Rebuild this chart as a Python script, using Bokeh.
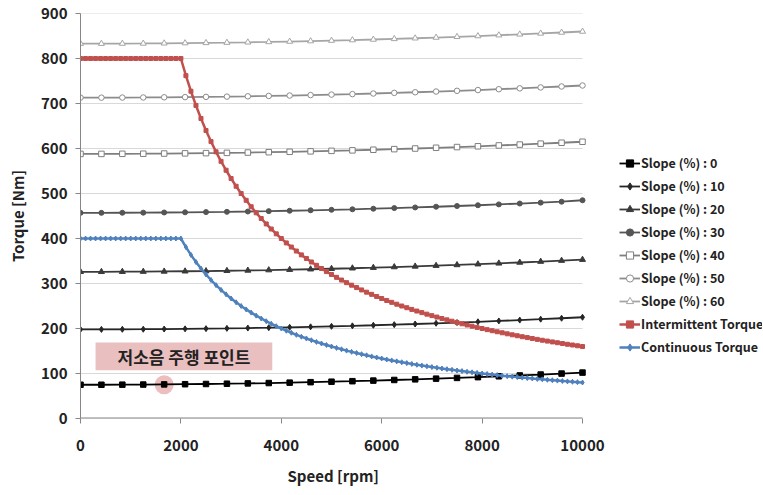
from bokeh.plotting import figure
from bokeh.models import Legend, LegendItem, Range1d, FixedTicker, Title
from bokeh.core.properties import value
from bokeh.embed import file_html
from bokeh.resources import INLINE

# ---------------- data ----------------
speed_slope = [0, 416.7, 833.3, 1250, 1666.7, 2083.3, 2500, 2916.7, 3333.3, 3750,
               4166.7, 4583.3, 5000, 5416.7, 5833.3, 6250, 6666.7, 7083.3, 7500,
               7916.7, 8333.3, 8750, 9166.7, 9583.3, 10000]
slope_0 = [75.0, 75.0, 75.2, 75.4, 75.8, 76.2, 76.7, 77.3, 78.0, 78.8, 79.7, 80.7, 81.8,
           82.9, 84.2, 85.6, 87.0, 88.6, 90.2, 91.9, 93.8, 95.7, 97.7, 99.8, 102.0]
slope_10 = [198.0, 198.0, 198.2, 198.4, 198.8, 199.2, 199.7, 200.3, 201.0, 201.8, 202.7, 203.7, 204.8,
            205.9, 207.2, 208.6, 210.0, 211.6, 213.2, 214.9, 216.8, 218.7, 220.7, 222.8, 225.0]
slope_20 = [326.0, 326.0, 326.2, 326.4, 326.8, 327.2, 327.7, 328.3, 329.0, 329.8, 330.7, 331.7, 332.8,
            333.9, 335.2, 336.6, 338.0, 339.6, 341.2, 342.9, 344.8, 346.7, 348.7, 350.8, 353.0]
slope_30 = [457.0, 457.0, 457.2, 457.4, 457.8, 458.2, 458.7, 459.3, 460.0, 460.8, 461.7, 462.7, 463.8,
            464.9, 466.2, 467.6, 469.0, 470.6, 472.2, 473.9, 475.8, 477.7, 479.7, 481.8, 485.0]
slope_40 = [588.0, 588.0, 588.2, 588.4, 588.8, 589.2, 589.7, 590.3, 591.0, 591.8, 592.7, 593.7, 594.8,
            595.9, 597.2, 598.6, 600.0, 601.6, 603.2, 604.9, 606.8, 608.7, 610.7, 612.8, 615.0]
slope_50 = [713.0, 713.0, 713.2, 713.4, 713.8, 714.2, 714.7, 715.3, 716.0, 716.8, 717.7, 718.7, 719.8,
            720.9, 722.2, 723.6, 725.0, 726.6, 728.2, 729.9, 731.8, 733.7, 735.7, 737.8, 740.0]
slope_60 = [833.0, 833.0, 833.2, 833.4, 833.8, 834.2, 834.7, 835.3, 836.0, 836.8, 837.7, 838.7, 839.8,
            840.9, 842.2, 843.6, 845.0, 846.6, 848.2, 849.9, 851.8, 853.7, 855.7, 857.8, 860.0]
slope_labels = ["Slope (%) : 0", "Slope (%) : 10", "Slope (%) : 20", "Slope (%) : 30",
                "Slope (%) : 40", "Slope (%) : 50", "Slope (%) : 60"]

speed_torque = list(range(0, 10001, 100))
intermittent = [800] * 21 + [
    761.9, 727.3, 695.7, 666.7, 640.0, 615.4, 592.6, 571.4, 551.7, 533.3,
    516.1, 500.0, 484.8, 470.6, 457.1, 444.4, 432.4, 421.1, 410.3, 400.0,
    390.2, 381.0, 372.1, 363.6, 355.6, 347.8, 340.4, 333.3, 326.5, 320.0,
    313.7, 307.7, 301.9, 296.3, 290.9, 285.7, 280.7, 275.9, 271.2, 266.7,
    262.3, 258.1, 254.0, 250.0, 246.2, 242.4, 238.8, 235.3, 231.9, 228.6,
    225.4, 222.2, 219.2, 216.2, 213.3, 210.5, 207.8, 205.1, 202.5, 200.0,
    197.5, 195.1, 192.8, 190.5, 188.2, 186.0, 183.9, 181.8, 179.8, 177.8,
    175.8, 173.9, 172.0, 170.2, 168.4, 166.7, 164.9, 163.3, 161.6, 160.0]
continuous = [400] * 21 + [
    381.0, 363.6, 347.8, 333.3, 320.0, 307.7, 296.3, 285.7, 275.9, 266.7,
    258.1, 250.0, 242.4, 235.3, 228.6, 222.2, 216.2, 210.5, 205.1, 200.0,
    195.1, 190.5, 186.0, 181.8, 177.8, 173.9, 170.2, 166.7, 163.3, 160.0,
    156.9, 153.8, 150.9, 148.1, 145.5, 142.9, 140.4, 137.9, 135.6, 133.3,
    131.1, 129.0, 127.0, 125.0, 123.1, 121.2, 119.4, 117.6, 116.0, 114.3,
    112.7, 111.1, 109.6, 108.1, 106.7, 105.3, 103.9, 102.6, 101.3, 100.0,
    98.8, 97.6, 96.4, 95.2, 94.1, 93.0, 92.0, 90.9, 89.9, 88.9,
    87.9, 87.0, 86.0, 85.1, 84.2, 83.3, 82.5, 81.6, 80.8, 80.0]

x_ticks = [0, 2000, 4000, 6000, 8000, 10000]
y_ticks = [0, 100, 200, 300, 400, 500, 600, 700, 800, 900]
x_max = 10000

note_text = "저소음 주행 포인트"
note_box = dict(left=300, right=3820, bottom=107, top=169)
note_point = (1666.7, 75.0)

FONT = "Noto Sans CJK KR"

# frame: x=0 at 80px, x=10000 at 582px; frame extends to 762px to host the legend
FRAME_L, FRAME_R, DATA_R = 80, 762, 582
x_view_end = x_max * (FRAME_R - FRAME_L) / (DATA_R - FRAME_L)

# ---------------- figure ----------------
p = figure(width=763, height=495, output_backend="svg", toolbar_location=None,
           x_range=Range1d(0, x_view_end), y_range=Range1d(0, 900),
           min_border_left=FRAME_L, min_border_right=763 - FRAME_R, min_border_top=13, min_border_bottom=77)
p.outline_line_color = None
p.background_fill_color = "white"
p.border_fill_color = "white"

p.xgrid.grid_line_color = None
p.ygrid.grid_line_color = None
# horizontal gridlines only across the data area
p.segment(x0=[0] * len(y_ticks), x1=[x_max] * len(y_ticks), y0=y_ticks, y1=y_ticks,
          line_color="#d9d9d9", line_width=1)
# x axis line (data area only)
p.segment(x0=[0], x1=[x_max], y0=[0], y1=[0], line_color="#868686", line_width=2)

p.xaxis.ticker = FixedTicker(ticks=x_ticks)
p.yaxis.ticker = FixedTicker(ticks=y_ticks)
for ax in (p.xaxis[0], p.yaxis[0]):
    ax.axis_line_color = "#868686"
    ax.major_tick_line_color = "#868686"
    ax.major_tick_out = 5
    ax.major_tick_in = 0
    ax.minor_tick_line_color = None
    ax.major_label_text_font = FONT
    ax.major_label_text_font_style = "bold"
    ax.major_label_text_font_size = "15px"
    ax.major_label_text_color = "#222222"
    ax.axis_label_text_font = FONT
    ax.axis_label_text_font_style = "bold"
    ax.axis_label_text_font_size = "15px"
    ax.axis_label_text_color = "#222222"
p.xaxis.axis_line_color = None
p.yaxis.axis_label = "Torque [Nm]"
p.xaxis.major_label_standoff = 16
p.yaxis.major_label_standoff = 8
p.yaxis.axis_label_standoff = 10

xtitle = Title(text="Speed [rpm]", align="left", offset=207, standoff=18,
               text_font=FONT, text_font_style="bold", text_font_size="15px", text_color="#222222")
p.add_layout(xtitle, "below")

# annotation box (behind lines)
p.quad(left=note_box["left"], right=note_box["right"], bottom=note_box["bottom"], top=note_box["top"],
       fill_color="#e9bfbf", line_color=None)
p.text(x=[(note_box["left"] + note_box["right"]) / 2], y=[(note_box["bottom"] + note_box["top"]) / 2],
       text=[note_text], text_align="center", text_baseline="middle",
       text_font=value(FONT), text_font_style="bold", text_font_size="17px", text_color="#222222")
p.scatter(x=[note_point[0]], y=[note_point[1]], size=19, marker="circle",
          fill_color="#e4a3a3", fill_alpha=0.7, line_color=None)

items = []
slope_series = [slope_0, slope_10, slope_20, slope_30, slope_40, slope_50, slope_60]
styles = [
    ("#000000", "square", "#000000", 5.5),
    ("#262626", "diamond", "#262626", 6),
    ("#3a3a3a", "triangle", "#3a3a3a", 6),
    ("#555555", "circle", "#555555", 5),
    ("#7f7f7f", "square", "white", 5.5),
    ("#8c8c8c", "circle", "white", 5.5),
    ("#a6a6a6", "triangle", "white", 6),
]
for ys, lab, (col, mk, fill, sz) in zip(slope_series, slope_labels, styles):
    r1 = p.line(speed_slope, ys, line_color=col, line_width=1.8)
    r2 = p.scatter(speed_slope, ys, marker=mk, size=sz, line_color=col, fill_color=fill, line_width=1)
    items.append(LegendItem(label=lab, renderers=[r1, r2]))

r1 = p.line(speed_torque, intermittent, line_color="#c0504d", line_width=2.5)
r2 = p.scatter(speed_torque, intermittent, marker="square", size=4, line_color="#c0504d", fill_color="#c0504d")
items.append(LegendItem(label="Intermittent Torque", renderers=[r1, r2]))
r1 = p.line(speed_torque, continuous, line_color="#4f81bd", line_width=2.5)
r2 = p.scatter(speed_torque, continuous, marker="diamond", size=5, line_color="#4f81bd", fill_color="#4f81bd")
items.append(LegendItem(label="Continuous Torque", renderers=[r1, r2]))

legend = Legend(items=items, location=(539, 62), orientation="vertical",
                label_text_font=FONT, label_text_font_style="bold", label_text_font_size="12.5px",
                label_text_color="#222222", glyph_width=21, glyph_height=18, label_height=18,
                label_standoff=1, spacing=4, padding=0, margin=0,
                border_line_color=None, background_fill_alpha=0)
p.add_layout(legend, "center")

open("out.html", "w").write(file_html(p, INLINE))
